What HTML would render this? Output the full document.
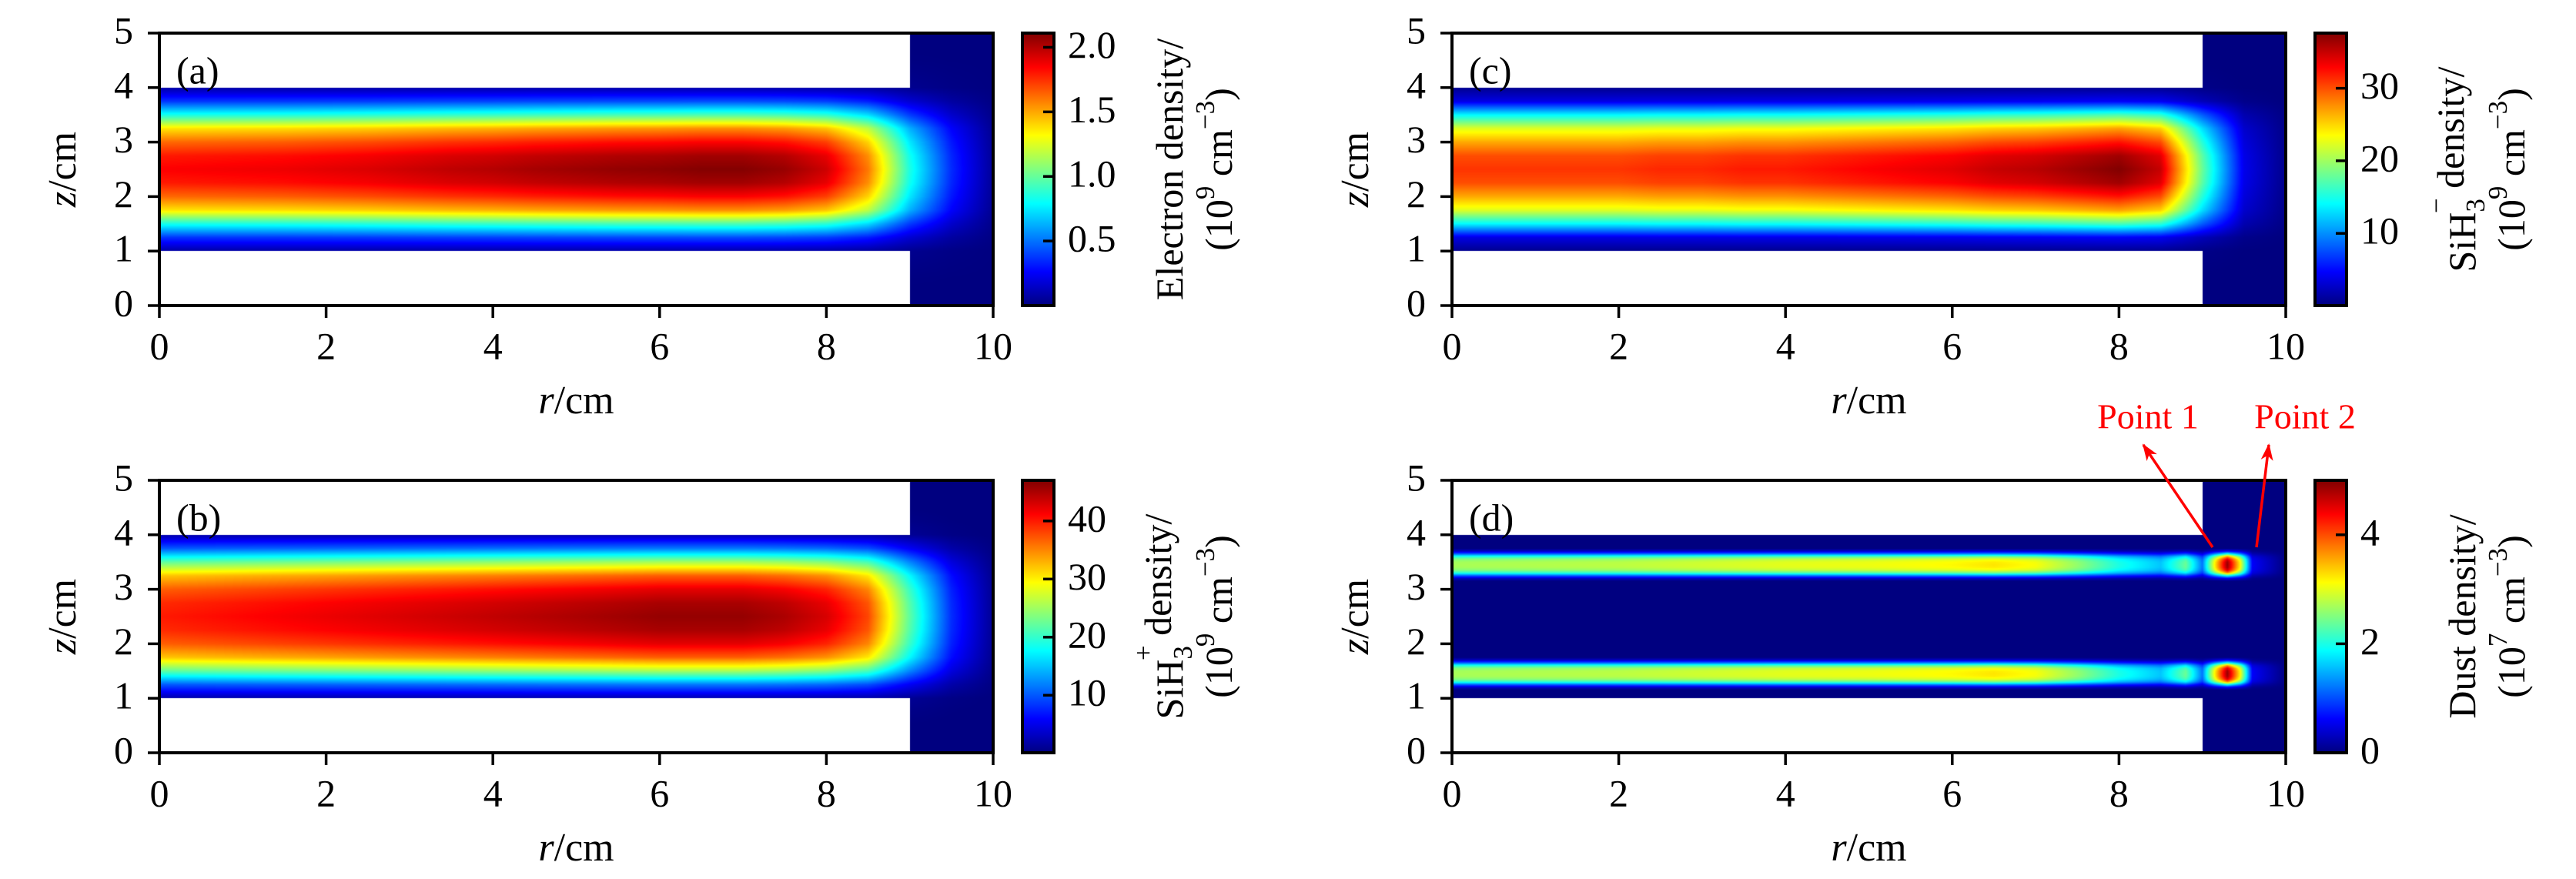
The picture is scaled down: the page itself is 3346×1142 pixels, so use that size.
<!DOCTYPE html>
<html><head><meta charset="utf-8"><style>
html,body{margin:0;padding:0;background:#fff;}
#root{position:relative;width:3346px;height:1142px;overflow:hidden;background:#fff;}
canvas{position:absolute;}
svg{position:absolute;left:0;top:0;}
text{font-family:"Liberation Serif",serif;fill:#000;}
</style></head><body>
<div id="root">
<canvas id="cva" width="1083" height="354" style="left:207px;top:43px"></canvas>
<canvas id="cvb" width="1083" height="354" style="left:207px;top:624px"></canvas>
<canvas id="cvc" width="1083" height="354" style="left:1886px;top:43px"></canvas>
<canvas id="cvd" width="1083" height="354" style="left:1886px;top:624px"></canvas>
<svg id="ov" width="3346" height="1142">
<defs><linearGradient id="jet" x1="0" y1="1" x2="0" y2="0">
<stop offset="0" stop-color="#000080"/><stop offset="0.125" stop-color="#0000ff"/><stop offset="0.375" stop-color="#00ffff"/><stop offset="0.5" stop-color="#80ff80"/><stop offset="0.625" stop-color="#ffff00"/><stop offset="0.875" stop-color="#ff0000"/><stop offset="1" stop-color="#800000"/>
</linearGradient>
<marker id="ah" markerWidth="22" markerHeight="16" refX="20" refY="8" orient="auto" markerUnits="userSpaceOnUse" viewBox="0 0 22 16"><path d="M0,0 L22,8 L0,16 L6,8 Z" fill="#f00"/></marker>
</defs>
</svg>
</div>
<script>
// ---- data ----
const xTicks = [0,2,4,6,8,10];
const yTicks = [0,1,2,3,4,5];
const rNodesA = [0,0.5,1,1.5,2,2.5,3,3.5,4,4.5,5,5.5,6,6.5,7,7.5,8,8.5,9,9.5,10];
const centerA = [1.85,1.86,1.87,1.88,1.90,1.92,1.95,1.98,2.0,2.03,2.05,2.07,2.08,2.1,2.1,2.06,1.95,1.6,0.85,0.35,0.05];
const zNodes = [0,0.25,0.5,0.75,1,1.25,1.5,1.75,2,2.25,2.5,2.75,3,3.25,3.5,3.75,4,4.25,4.5,4.75,5];
const profA = [0,0,0.005,0.02,0.04,0.2,0.45,0.74,0.88,0.97,1.0,0.97,0.88,0.74,0.45,0.2,0.04,0.02,0.005,0,0];
const cbTicksA = [0.5,1.0,1.5,2.0];
const centerB = [40,40.5,41,41.5,42,42.5,43,43.5,44,44.5,45,45.5,46,46,46,45,43,38,22,8,1];
const profB = [0,0,0.005,0.02,0.05,0.25,0.55,0.8,0.92,0.98,1,0.98,0.92,0.8,0.55,0.25,0.05,0.02,0.005,0,0];
const cbTicksB = [10,20,30,40];
const centerC = [31,31,31,31,31,31.5,31.5,32,32,32.5,33,33.5,34,35,35.5,36.5,37.5,35,18,4,0.5];
const profC = [0,0,0.002,0.01,0.02,0.12,0.45,0.72,0.86,0.97,1,0.97,0.86,0.72,0.45,0.12,0.02,0.01,0.002,0,0];
const cbTicksC = [10,20,30];
const rNodesD = [0,1,2,3,4,5,6,6.5,7,7.5,8,8.5,8.8,9.0,9.15,9.3,9.45,9.6,10];
const stripeD = [2.7,2.75,2.8,2.9,3.0,3.05,3.15,3.25,3.1,2.6,2.0,1.6,2.4,1.2,3.2,4.9,3.2,0.6,0];
const stripeCenters = [1.45,3.45];
const offNodes = [-0.3,-0.25,-0.2,-0.15,-0.1,-0.05,0,0.05,0.1,0.15,0.2,0.25,0.3];
const stripeProf = [0,0.12,0.4,0.75,0.93,0.99,1,0.99,0.93,0.75,0.4,0.12,0];
const cbTicksD = [0,2,4];
const cbRange = {a:[0,2.11], b:[0.1,47], c:[0.05,37.6], d:[0,5.0]};

function interp(xs, ys, x){
  if (x<=xs[0]) return ys[0];
  if (x>=xs[xs.length-1]) return ys[ys.length-1];
  for (let i=1;i<xs.length;i++){ if (x<=xs[i]){const t=(x-xs[i-1])/(xs[i]-xs[i-1]);return ys[i-1]+t*(ys[i]-ys[i-1]);} }
  return ys[ys.length-1];
}
function jet(t){
  t=Math.max(0,Math.min(1,t));
  const c=v=>Math.round(255*Math.max(0,Math.min(1,v)));
  return [c(1.5-Math.abs(4*t-3)), c(1.5-Math.abs(4*t-2)), c(1.5-Math.abs(4*t-1))];
}
const W=1083,H=354;
function rOf(px){return px/W*10;}
function zOf(py){return (1-py/H)*5;}
function draw(id, fn, rng){
  const cv=document.getElementById(id), ctx=cv.getContext('2d');
  const img=ctx.createImageData(W,H);
  for(let py=0;py<H;py++){ const z=zOf(py+0.5);
    for(let px=0;px<W;px++){ const r=rOf(px+0.5); const k=(py*W+px)*4;
      if (r<9 && (z<1||z>4)){img.data[k]=255;img.data[k+1]=255;img.data[k+2]=255;img.data[k+3]=255;continue;}
      const v=fn(r,z); const c=jet((v-rng[0])/(rng[1]-rng[0]));
      img.data[k]=c[0];img.data[k+1]=c[1];img.data[k+2]=c[2];img.data[k+3]=255;
    }}
  ctx.putImageData(img,0,0);
}
draw('cva',(r,z)=>interp(rNodesA,centerA,r)*interp(zNodes,profA,z),cbRange.a);
draw('cvb',(r,z)=>interp(rNodesA,centerB,r)*interp(zNodes,profB,z),cbRange.b);
draw('cvc',(r,z)=>interp(rNodesA,centerC,r)*interp(zNodes,profC,z),cbRange.c);
draw('cvd',(r,z)=>{let m=0;for(const zc of stripeCenters){m=Math.max(m,interp(rNodesD,stripeD,r)*interp(offNodes,stripeProf,z-zc));}return m;},cbRange.d);

const NS='http://www.w3.org/2000/svg';
const ov=document.getElementById('ov');
function mk(tag,attrs,parent){const e=document.createElementNS(NS,tag);for(const k in attrs)e.setAttribute(k,attrs[k]);(parent||ov).appendChild(e);return e;}
const panels=[
 {key:'a',L:207,T:43,ticks:cbTicksA,letter:'(a)',lab1:[['Electron density/']],lab2:[['(10'],['9','sup'],[' cm'],['\u22123','sup'],[')']]},
 {key:'b',L:207,T:624,ticks:cbTicksB,letter:'(b)',lab1:[['SiH'],['3','sub'],['+','supx'],[' density/']],lab2:[['(10'],['9','sup'],[' cm'],['\u22123','sup'],[')']]},
 {key:'c',L:1886,T:43,ticks:cbTicksC,letter:'(c)',lab1:[['SiH'],['3','sub'],['\u2212','supx'],[' density/']],lab2:[['(10'],['9','sup'],[' cm'],['\u22123','sup'],[')']]},
 {key:'d',L:1886,T:624,ticks:cbTicksD,letter:'(d)',lab1:[['Dust density/']],lab2:[['(10'],['7','sup'],[' cm'],['\u22123','sup'],[')']]}
];
const FS=50;
function richText(g,x,y,parts,size){
  const t=mk('text',{x:x,y:y,'font-size':size,'text-anchor':'middle','dominant-baseline':'middle',transform:`rotate(-90 ${x} ${y})`},g);
  let pending=0;
  for(const p of parts){
    const s=mk('tspan',{},t); s.textContent=p[0];
    let dy=pending; pending=0;
    if(p[1]==='sup'){s.setAttribute('font-size',size*0.7);dy+=-size*0.4;pending=size*0.4;}
    else if(p[1]==='sub'){s.setAttribute('font-size',size*0.7);dy+=size*0.3;pending=-size*0.3;}
    else if(p[1]==='supx'){s.setAttribute('font-size',size*0.7);s.setAttribute('dx',-size*0.38);dy+=-size*0.72;pending=size*0.42;}
    if(dy) s.setAttribute('dy',dy);
  }
  return t;
}
panels.forEach(p=>{
  const g=mk('g',{});
  
  
  const R=p.L+W,B=p.T+H;
  const xs=v=>p.L+v/10*W, ys=v=>B-v/5*H;
  const fr=mk('rect',{x:p.L,y:p.T,width:W,height:H,fill:'none',stroke:'#000','stroke-width':4},g);
  
  
  xTicks.forEach(v=>{
    mk('line',{x1:xs(v),x2:xs(v),y1:B,y2:B+16,stroke:'#000','stroke-width':3.5},g);
    const t=mk('text',{x:xs(v),y:B+58,'font-size':FS,'text-anchor':'middle','dominant-baseline':'middle'},g);
    t.textContent=v;
    
    
  });
  yTicks.forEach(v=>{
    mk('line',{x1:p.L-15,x2:p.L,y1:ys(v),y2:ys(v),stroke:'#000','stroke-width':3.5},g);
    const t=mk('text',{x:p.L-34,y:ys(v)+2,'font-size':FS,'text-anchor':'end','dominant-baseline':'middle'},g);
    t.textContent=v;
    
    
  });
  const lt=mk('text',{x:p.L+22,y:p.T+54,'font-size':FS,'dominant-baseline':'middle'},g);
  lt.textContent=p.letter;
  
  
  const xt=mk('text',{x:p.L+W/2,y:B+128,'font-size':52,'text-anchor':'middle','dominant-baseline':'middle'},g);
  const xi=mk('tspan',{'font-style':'italic'},xt); xi.textContent='r';
  const xr=mk('tspan',{},xt); xr.textContent='/cm';
  
  
  const yx=p.L-121, yy=p.T+H/2;
  const yt=mk('text',{x:yx,y:yy,'font-size':52,'text-anchor':'middle','dominant-baseline':'middle',transform:`rotate(-90 ${yx} ${yy})`},g);
  const yi=mk('tspan',{'font-style':'italic'},yt); yi.textContent='z';
  const yr=mk('tspan',{},yt); yr.textContent='/cm';
  
  
  const cx=R+38, cw=41, rng=cbRange[p.key];
  const cb=mk('rect',{x:cx,y:p.T,width:cw,height:H,fill:'url(#jet)',stroke:'#000','stroke-width':4},g);
  
  
  p.ticks.forEach(v=>{
    const y=B-(v-rng[0])/(rng[1]-rng[0])*H;
    mk('line',{x1:cx+cw-14,x2:cx+cw,y1:y,y2:y,stroke:'#000','stroke-width':3.5},g);
    const t=mk('text',{x:cx+cw+18,y:y+2,'font-size':FS,'dominant-baseline':'middle'},g);
    t.textContent=(p.key==='a')?v.toFixed(1):v;
    
    
  });
  const l1=richText(g,cx+cw+156,p.T+H/2,p.lab1,FS);
  
  
  const l2=richText(g,cx+cw+220,p.T+H/2,p.lab2,FS);
  
  
});
const a1=mk('line',{x1:2874,y1:711,x2:2784,y2:578,stroke:'#f00','stroke-width':3.5,'marker-end':'url(#ah)'});


const a2=mk('line',{x1:2931,y1:711,x2:2947,y2:578,stroke:'#f00','stroke-width':3.5,'marker-end':'url(#ah)'});


const p1=mk('text',{x:2790,y:546,'font-size':46,'text-anchor':'middle','dominant-baseline':'middle',style:'fill:#f00'});
p1.textContent='Point 1';


const p2=mk('text',{x:2994,y:546,'font-size':46,'text-anchor':'middle','dominant-baseline':'middle',style:'fill:#f00'});
p2.textContent='Point 2';


</script>
</body></html>
